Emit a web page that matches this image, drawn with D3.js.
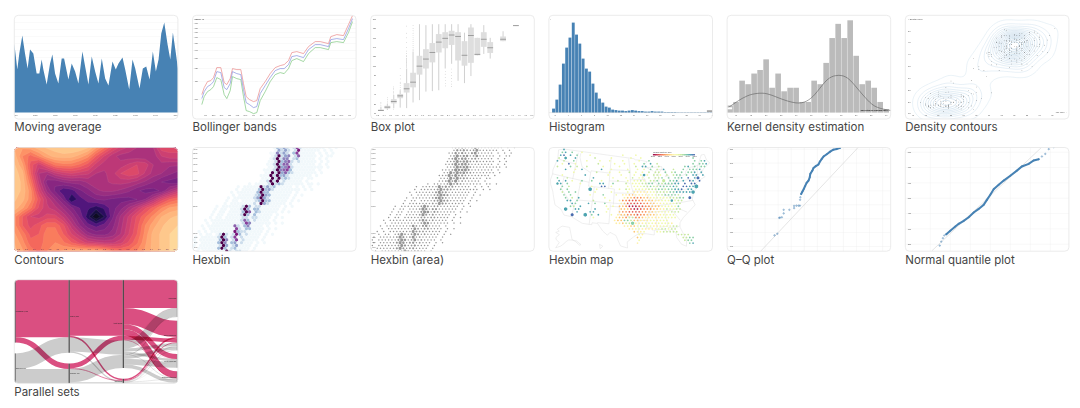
<!DOCTYPE html>
<html>
<head>
<meta charset="utf-8">
<title>Chart gallery</title>
<script src="https://cdn.jsdelivr.net/npm/d3@7"></script>
<style>
  html, body { margin: 0; background: #fff; }
  svg { display: block; }
  .title { font-family: Inter, "Noto Sans", sans-serif; font-size: 11.5px; fill: #444; }
  .tiny { font-family: "Liberation Sans", sans-serif; }
</style>
</head>
<body>
<div id="gallery"></div>
<script>
// Gallery of small chart cards.

const cardTitles = [
  "Moving average", "Bollinger bands", "Box plot", "Histogram", "Kernel density estimation", "Density contours",
  "Contours", "Hexbin", "Hexbin (area)", "Hexbin map", "Q–Q plot", "Normal quantile plot",
  "Parallel sets"
];

// moving average
const maDays = [0,1.3,3,5,8,10.7,13.3,15.7,19,22.3,25,27.3,29,32.3,35.7,38,40.7,44,47.3,49.7,54,57.3,60.7,64,68,70.7,74,77.3,80.7,84,87.3,90.7,94,98,101.3,104,108,110.7,114.7,118,120.7,125,128.3,131.7,135,138.3,141.3,144,146.7,149.7,153,155.7,158.3,161.3,163.3];
const maValues = [69,58,43,59,77,59,44,63,59,39,39,53,43,28,49,58,39,29,54,54,33,49,41,29,61,46,28,56,41,29,54,34,27,51,43,49,55,43,23,53,44,24,44,46,33,61,41,53,79,90,68,53,80,59,44];
const maTicks = [1,21,41,61,81,101,121,141,161];
const maTickLabels = ["1870","1880","1890","1900","1910","1920","1930","1940","1950"];

// bollinger bands
const bbDays = [9.3,11.7,15,18.3,21,24.3,28.3,31.7,34.3,37.7,40,44.3,48.3,51,53.7,57,61,64.3,67.7,72.7,77.7,82.7,87.7,91.7,96,99.3,104.3,111,116,122.7,127.7,136,138.3,144.3,151,156,160];
const bbMiddle = [18,25,30,32,35,45,44,29,27,33,45,43,42,27,14,12,9,10,23,31,39,46,48,48,52,60,61,59,67,72,72,70,77,78,77,88,98];
const bbUpper = [22,29,35,36,39,49,49,34,32,38,48,47,47,33,20,17,15,16,28,35,43,49,51,52,56,64,65,63,70,75,75,73,80,82,81,92,101];
const bbLower = [12,20,25,27,30,39,37,22,18,26,40,38,37,20,6,5,3,4,16,25,35,42,44,43,48,56,58,55,63,69,69,67,74,75,74,84,95];
const bbGrid = [97,93,88,84,79,73,66,58,48,35,17];
const bbGridLabels = ["200","190","180","170","160","150","140","130","120","110","100"];
const bbTicks = [13,21,29,37,45,53,61,69,77,85,93,101,109,117,125,133,141,149,157];
const bbTickLabels = ["Jul","Sep","Nov","Jan","Mar","May","Jul","Sep","Nov","Jan","Mar","May","Jul","Sep","Nov","Jan","Mar","May","Jul"];

// box plot, price in thousands by 0.2 carat bin
const boxCarats = [0.3,0.5,0.7,0.9,1.1,1.3,1.5,1.7,1.9,2.1,2.3,2.5,2.7,2.9,3.1,3.3,3.5,3.7,4.1,4.5];
const boxLow = [0.5,0.7,1.1,1.2,1.1,2.3,2.8,4.6,4.7,4.9,9.5,10.5,6.9,6.4,7.9,12.3,12.6,11.6,15.3,18.5];
const boxQ1 = [0.5,1.0,2.1,3.2,4.4,5.5,8.2,9.5,10.8,12.9,13.8,14.5,11.2,10.1,10.7,12.3,14.1,12.8,15.3,18.5];
const boxMedian = [0.6,1.3,2.5,3.7,5.2,6.6,10.0,11.5,12.9,15.1,15.9,16.6,16.3,12.3,16.5,12.5,15.7,13.9,15.7,18.6];
const boxQ3 = [0.8,1.6,3.0,4.1,6.4,8.6,12.2,13.6,14.9,16.8,17.2,17.5,17.2,15.3,18.2,16.0,17.2,15.1,16.3,18.7];
const boxHigh = [1.4,2.0,3.9,4.9,9.5,13.1,18.9,18.7,18.9,18.9,18.9,18.9,18.9,17.1,18.9,16.0,18.7,16.0,17.4,18.7];
const boxOutliers = [
  [1.6,2.0,2.3],[2.2,2.6,3.0,3.4],[0.9,4.1,4.4,4.7,5.0,5.3,5.6],[5.1,5.5,5.9,6.3,6.6,7.3,8.0,9.5],
  [9.7,9.9,10.1,10.3,10.5,10.7,10.9,11.1,11.3,11.5,11.7,12,12.3,12.7,13.2,14,15,16,17,18.5],
  [13.3,13.6,14,14.4,14.8,15.2,15.6,16,16.5,17,17.5,18,18.6],[],[],[],[],
  [5.8,6.3,7,7.6,8.3,8.9],[5.7,6.2,6.8,7.4,8,8.6,9.4],[],[],[],[],[],[],[],[]
];

// histogram, bars in 0.5 steps
const histCounts = [4,13,28,49,65,75,90,78,69,54,44,41,29,20,14,10,6,5,3,2.5,2,2,1.5,2,2.5,2,1.5,1.5,1,1,1.5,1,1,1,0.5,0.5,0.5,0.5,0.3,0.3,0.3,0.3,0.3,0.3,0.3,0.3,0.3,0.3,0.3];
const histTicks = [2,4,6,8,10,12,14,16,18,20,22,24,26];

// kernel density
const kdeBins = [2,3,9,8,11,12,15,7,11,6,7,7,3,3,9,8,14,21,25,21,26,16,8,9,7,3,1];
const kdeX = [37,40.3,43.7,47,50.3,53.7,57,60.9,64.2,67,70.3,73.1,75.3,77.6,80.3,83.7,87,91.6];
const kdeY = [1.2,3.1,4.7,5.4,5.3,4.3,3.3,2.7,3.6,5.9,9.2,10.4,10.4,9.4,6.9,3.6,1.5,0.6];
const kdeTicks = [40,45,50,55,60,65,70,75,80,85,90];

// old faithful
const faithfulEruptions = [3.6,1.8,3.333,2.283,4.533,2.883,4.7,3.6,1.95,4.35,1.833,3.917,4.2,1.75,4.7,2.167,1.75,4.8,1.6,4.25,1.8,1.75,3.45,3.067,4.533,3.6,1.967,4.083,3.85,4.433,4.3,4.467,3.367,4.033,3.833,2.017,1.867,4.833,1.833,4.783,4.35,1.883,4.567,1.75,4.533,3.317,3.833,2.1,4.633,2,4.8,4.716,1.833,4.833,1.733,4.883,3.717,1.667,4.567,4.317,2.233,4.5,1.75,4.8,1.817,4.4,4.167,4.7,2.067,4.7,4.033,1.967,4.5,4,1.983,5.067,2.017,4.567,3.883,3.6,4.133,4.333,4.1,2.633,4.067,4.933,3.95,4.517,2.167,4,2.2,4.333,1.867,4.817,1.833,4.3,4.667,3.75,1.867,4.9,2.483,4.367,2.1,4.5,4.05,1.867,4.7,1.783,4.85,3.683,4.733,2.3,4.9,4.417,1.7,4.633,2.317,4.6,1.817,4.417,2.617,4.067,4.25,1.967,4.6,3.767,1.917,4.5,2.267,4.65,1.867,4.167,2.8,4.333,1.833,4.383,1.883,4.933,2.033,3.733,4.233,2.233,4.533,4.817,4.333,1.983,4.633,2.017,5.1,1.8,5.033,4,2.4,4.6,3.567,4,4.5,4.083,1.8,3.967,2.2,4.15,2,3.833,3.5,4.583,2.367,5,1.933,4.617,1.917,2.083,4.583,3.333,4.167,4.333,4.5,2.417,4,4.167,1.883,4.583,4.25,3.767,2.033,4.433,4.083,1.833,4.417,2.183,4.8,1.833,4.8,4.1,3.966,4.233,3.5,4.366,2.25,4.667,2.1,4.35,4.133,1.867,4.6,1.783,4.367,3.85,1.933,4.5,2.383,4.7,1.867,3.833,3.417,4.233,2.4,4.8,2,4.15,1.867,4.267,1.75,4.483,4,4.117,4.083,4.267,3.917,4.55,4.083,2.417,4.183,2.217,4.45,1.883,1.85,4.283,3.95,2.333,4.15,2.35,4.933,2.9,4.583,3.833,2.083,4.367,2.133,4.35,2.2,4.45,3.567,4.5,4.15,3.817,3.917,4.45,2,4.283,4.767,4.533,1.85,4.25,1.983,2.25,4.75,4.117,2.15,4.417,1.817,4.467];
const faithfulWaiting = [79,54,74,62,85,55,88,85,51,85,54,84,78,47,83,52,62,84,52,79,51,47,78,69,74,83,55,76,78,79,73,77,66,80,74,52,48,80,59,90,80,58,84,58,73,83,64,53,82,59,75,90,54,80,54,83,71,64,77,81,59,84,48,82,60,92,78,78,65,73,82,56,79,71,62,76,60,78,76,83,75,82,70,65,73,88,76,80,48,86,60,90,50,78,63,72,84,75,51,82,62,88,49,83,81,47,84,52,86,81,75,59,89,79,59,81,50,85,59,87,53,69,77,56,88,81,45,82,55,90,45,83,56,89,46,82,51,86,53,79,81,60,82,77,76,59,80,49,96,53,77,77,65,81,71,70,81,93,53,89,45,86,58,78,66,76,63,88,52,93,49,57,77,68,81,81,73,50,85,74,55,77,83,83,51,78,84,46,83,55,81,57,76,84,77,81,87,77,51,78,60,82,91,53,78,46,77,84,49,83,71,80,49,75,64,76,53,94,55,76,50,82,54,75,78,79,78,78,70,79,70,54,86,50,90,54,54,77,79,64,75,47,86,63,85,82,57,82,67,74,54,83,73,73,88,80,71,83,56,79,78,84,58,83,43,60,75,81,46,90,46,74];
const faithfulXTicks = [40,45,50,55,60,65,70,75,80,85,90,95];
const faithfulYTicks = [1.5,2,2.5,3,3.5,4,4.5,5];

// contours: level (0-99) read at 21 x 13 positions
const contourLevels = [
  [82,78,80,85,88,90,92,92,92,88,78,68,58,50,46,42,40,42,55,55,55],
  [85,72,65,72,80,84,85,84,80,74,62,52,44,40,39,38,38,39,47,50,50],
  [88,78,60,50,60,68,70,70,66,60,50,44,42,44,48,52,50,42,40,38,38],
  [90,84,62,42,38,46,50,52,50,48,42,41,45,52,56,54,46,40,37,33,30],
  [90,86,68,46,30,28,32,34,34,38,40,41,43,44,43,40,36,32,27,25,24],
  [90,86,74,52,36,26,18,20,26,30,36,38,38,36,33,28,25,25,28,38,46],
  [88,84,74,60,46,36,26,12,20,24,27,28,26,25,25,27,32,42,54,62,66],
  [85,78,68,56,48,44,36,28,22,18,14,18,25,30,38,46,56,64,72,78,80],
  [74,62,52,50,54,54,46,36,26,14,2,12,26,38,48,58,66,74,82,86,88],
  [74,62,55,60,66,66,58,44,32,24,20,24,30,40,50,60,72,80,86,90,92],
  [78,70,60,62,70,70,62,52,44,34,30,30,34,42,52,62,74,84,88,92,93],
  [82,74,64,64,70,72,68,62,56,50,48,46,46,50,58,66,76,84,88,92,94],
  [84,78,70,66,72,76,78,80,82,82,82,78,72,68,68,72,78,84,88,92,94]
];
const contourThresholds = [2,7,12,17,22,27,32,37,42,47,52,57,62,67,72,77,82,87,92];
const contourTickLabels = ["-2.0","-1.8","-1.6","-1.4","-1.2","-1.0","-0.8","-0.6","-0.4","-0.2","0.0","0.2","0.4","0.6","0.8","1.0","1.2","1.4","1.6","1.8","2.0"];

// hexbin counts, one digit per bin: [first column, digits]
const hexRows = [
  [25,"1324212721111111.1.1"],[25,"14242128111111.1.1"],[24,"11524213711111.1.1.1"],[24,"12924512611111.1.11"],
  [24,"12925512311111.1.1"],[23,"112935621211111.1.1"],[23,"112936621111111.1.1"],[23,"11294572111111111.1"],
  [22,"1112956731111111.1"],[22,"1192946321111111.1"],[21,"1119293421111111.1"],[21,"1119292321111.11"],
  [21,"1129291211111.1"],[17,"1.111129232111111.11.1"],[14,"1.111119242311111.1.1.1"],[13,"1.111113934211111111.1.1"],
  [12,"1.11111139331111111.1"],[12,"1.1111123943111111.1.1"],[11,"1.11111124942111111.1"],[10,"1.11.11112393311111.1.1"],
  [10,"1.11111112194211111.1"],[7,"1.111111293122111111.1.1"],[7,"1.11.111294133111111.1"],[6,"1.11.111139613211111.1.1"],
  [6,"1.11.11112931311111.1"],[5,"1.11.11111221221111.1.1"],[4,"1.111111111263121111.1"],[4,"1.111111111275111111.1.1"],
  [3,"1.11111111621351111.1"],[3,"1.11111111721331111.1.1"],[2,"1.1.1111111832211111.1"],[2,"1.11.12921283121111.1.1"],
  [1,"1.111112931271211111.1"],[0,"1.111111395127121111.1"],[1,"1.1111139513412111.1.1"],[0,"1.1111112941241111.1"],
  [0,"1.1111113931231111.1"],[1,"1.11111119212211.1"]
];
const hexPriceTicks = [700,800,900,1000,2000,3000,4000,5000,6000,7000,8000,9000];

// hexbin map: colour digit per bin, 0 red to 9 blue
const mapRows = [
  "...8",
  "..78.7..5",
  "..89.8.7...5.........5...5",
  ".6.7..8.....6....5.....5..5...............7",
  ".8.6..7...5...5..5...5....5..7.............7.78",
  "..5.9.5......6....5..5..5..7.8.6..........7.778",
  ".6...7.6..6....5....5....6.88.7.6.......78.7.77",
  "...8..5.8.....8..5....5..5.5.7.6.8..6..7.7778.",
  "......5......6...5..5..6.5.5.6.66.7.67.7.778.8",
  "..5......8......5...5...5.5.5.665.6.677.7.88.8",
  ".7..6.......8.....5...5.6.55.6.667.7.778.9.89",
  ".8.8.5..7..7..5....6..5.5565.667.7.778.8.98.9",
  ".78.7...5.....88..7...6.5556677.7677788.9.99",
  "..7.6......5..99.5....5.55566766777787.9988",
  "..7.7......6.5......5.65.555566677677889.88",
  "..6.7.7.....5....5....5.444445566667788888",
  "...7.7.....5...7...5.443344445556677776",
  "...7.6.8.......5.....4332223345555566677",
  "....88.7....6....5..42211122333445555566",
  ".....87...8.7..7....4311111223344555566",
  ".....76.8.......5.5.3320001122333555557",
  "......88....8...5...3331001222334465566",
  ".......8...88...5...3221111223344555666",
  "...........7.8...5.433222122333445555",
  "............5......4332662234444455555",
  "..................43377633444554555",
  "...................443664444555455554",
  ".....................44335665544555566",
  ".......................445544445566566",
  "........................3445...5566666",
  "..........................54..........6666",
  ".........................35............6677",
  "..........................5.............677",
  ".........................4...............78"
];
const mapHubCols = [3,1,3,5,9,11,43,42,44,41,36,27,24,33];
const mapHubRows = [3,12,21,23,23,14,13,15,10,17,18,9,26,11];
const mapHubColours = [8,8,8,9,8,8,8,8,9,9,8,8,7,6];
const mapHubSizes = [1.4,1.3,1.9,1.7,2,2,2.1,1.9,1.6,1.6,1.4,1.4,1.8,1.7];
const mapLegendTicks = ["2000","2200","2400","2600","2800","3000","3200"];

const usOutline = [[-124.7,48.4],[-122.8,49],[-95.15,49],[-94.6,48.7],[-93,48.6],[-90,48.1],[-92.1,46.8],[-90.5,46.6],[-87.6,46.5],[-84.8,46.5],[-84.6,45.8],[-87,45.7],[-88,44.6],[-87.5,42.5],[-86.9,41.7],[-86.3,42.8],[-86.3,44.7],[-85,45.7],[-83.5,45.3],[-83.3,44.3],[-83.9,43.8],[-82.6,43.9],[-82.5,42.6],[-83.4,41.7],[-81.7,41.5],[-79,42.7],[-79,43.3],[-76.5,43.5],[-76.3,44.2],[-75,45],[-71.5,45],[-70.3,46.2],[-69.2,47.4],[-68,47.3],[-67.8,45.7],[-67,44.8],[-70,43.7],[-70.8,42.8],[-70,41.7],[-71.5,41.4],[-74,40.6],[-74,39.5],[-75.4,38],[-76,36.9],[-75.5,35.3],[-77.9,33.9],[-79.9,32.7],[-81.2,31.5],[-81.4,30.4],[-80.1,26.8],[-80.4,25.2],[-81.7,25.9],[-82.8,27.8],[-82.8,29],[-84,30.1],[-85.3,29.7],[-86.5,30.4],[-89.2,30.3],[-89.3,29.1],[-91.5,29.5],[-93.8,29.7],[-95.3,28.9],[-97.3,27.5],[-97.2,25.9],[-99.2,26.4],[-100.7,29.1],[-102.5,29.8],[-103.2,29],[-104.7,30],[-106.5,31.8],[-108.2,31.8],[-108.2,31.3],[-111.1,31.3],[-114.8,32.5],[-117.1,32.5],[-118.4,33.8],[-120.6,34.5],[-122,36.9],[-122.5,37.8],[-123.8,39.3],[-124.3,40.4],[-124.2,42],[-124.5,43],[-124,46.2],[-124.7,48.4]];
const stateLines = [
  [[-124,46.2],[-123,46.1],[-119,46],[-116.9,46]],[[-117,49],[-116.9,42]],[[-124.2,42],[-111,42]],
  [[-120,42],[-120,39],[-114.6,35]],[[-114,42],[-114,37],[-114.7,36],[-114.6,35],[-114.8,32.5]],
  [[-109,41],[-109,31.3]],[[-114,37],[-94.6,37]],[[-111,45],[-111,41],[-102,41]],[[-111,45],[-104,45]],
  [[-116,49],[-116,47.9],[-114.5,45.6],[-111,44.5]],[[-104,45.9],[-96.6,45.9]],[[-104,49],[-104,41]],
  [[-103,37],[-103,32],[-106.6,32]],[[-104,43],[-98.5,43],[-96.5,42.5]],[[-102,40],[-95.3,40]],[[-102,41],[-102,37]],
  [[-103,36.5],[-100,36.5],[-100,34.5],[-94.4,33.6]],[[-94,33.6],[-94,29.7]],[[-94,33],[-91.2,33]],
  [[-94.6,36.5],[-90,36.5],[-89.7,36]],[[-96.5,43.5],[-91.2,43.5]],[[-95.8,40.6],[-91.5,40.6]],
  [[-97.2,49],[-96.6,45.9],[-96.5,43.5],[-96,41.5],[-95.3,40],[-94.6,39],[-94.6,36.5],[-94.4,33.6]],
  [[-92.8,45],[-91.2,43.5],[-90.5,41.5],[-91.5,40.6],[-90.2,38.7],[-89.2,37],[-89.7,36],[-90.5,34.8],[-91.2,33],[-91.6,31],[-89.7,31],[-89.6,30.2]],
  [[-90.5,46.6],[-88,45.5]],[[-90.6,42.5],[-87.8,42.5]],[[-87.5,41.7],[-87.6,39],[-88,37.9]],[[-84.8,41.7],[-84.8,39.1]],[[-87,41.75],[-83.4,41.7]],
  [[-89.2,37],[-88,37.9],[-86,38],[-84.8,39.1],[-82.6,38.4],[-80.6,40.6],[-80.5,42]],[[-89.5,36.5],[-81.7,36.6],[-75.9,36.55]],
  [[-90.3,35],[-84.3,35],[-81,35.2],[-78.5,33.9]],[[-88.2,35],[-88.4,30.3]],[[-85.6,35],[-85,32],[-85,31],[-87.6,31]],[[-85,30.7],[-82.2,30.5],[-81.4,30.7]],
  [[-83.1,35],[-81,32.1]],[[-80.5,42],[-75,42],[-75,40]],[[-80.5,39.7],[-75.7,39.7]],[[-82,37.5],[-80,38],[-78,39.3],[-77.7,39.3]],
  [[-73.3,45],[-73.3,42.7],[-73.5,41.2]],[[-73.3,42.7],[-70.8,42.8]],[[-71.5,45],[-72.5,42.7]],[[-71,45.3],[-70.7,43.1]]
];
const alaskaOutline = [[-141,69.6],[-141,60.3],[-137,58.5],[-133,55],[-131,55],[-135,58.5],[-140,59.8],[-146,60.5],[-151,59.2],[-153,58],[-158,56],[-164,54.5],[-160,58.7],[-165,60.5],[-166,62],[-161,64.5],[-168,65.7],[-162,67],[-166,68.3],[-157,71],[-141,69.6]];
const hawaiiOutline = [[-155.9,20.2],[-155,19.7],[-155.7,19],[-155.9,20.2]];

// q-q
const qqX = [436,447,454,457,464,471,471,493,511,511,520,528,533,534,535,538,543,548,553,559,566,571,573,581,585,594,604,610,617,624,636,649,661,674,687];
const qqY = [440,446,503,504,505,519,532,532,538,546,547,547,547,568,577,589,598,607,617,629,637,649,661,673,682,689,695,706,715,724,732,741,748,751,755];
const qqTicks = [400,450,500,550,600,650,700,750];
const qqRefX = [300,800];
const qqRefY = [300,800];
const qqDenseFrom = 15;

// normal quantile
const nqZ = [-2.53,-2.45,-2.37,-2.3,-2.2,-2,-1.75,-1.58,-1.33,-1.08,-0.83,-0.58,-0.33,-0.17,0,0.17,0.42,0.67,1,1.33,1.58,1.92,2.17,2.42,2.58,2.75,2.92,3.17];
const nqValues = [191,217,239,257,265,287,315,333,352,376,407,430,457,489,522,559,587,615,646,680,707,724,746,754,772,789,820,833];
const nqTicks = [200,300,400,500,600,700,800];
const nqZTicks = [-3,-2,-1,0,1,2,3];
const nqRefZ = [-2.92,2.55];
const nqRefY = [157,830];

// titanic
const psSurvived = ["Perished","Perished","Perished","Perished","Perished","Perished","Perished","Perished","Perished","Perished","Survived","Survived","Survived","Survived","Survived","Survived","Survived","Survived","Survived","Survived","Survived","Survived","Survived","Survived"];
const psSex = ["Male","Male","Male","Male","Male","Female","Female","Female","Female","Female","Male","Male","Male","Male","Male","Male","Male","Female","Female","Female","Female","Female","Female","Female"];
const psAge = ["Adult","Adult","Adult","Adult","Child","Adult","Adult","Adult","Adult","Child","Adult","Adult","Adult","Adult","Child","Child","Child","Adult","Adult","Adult","Adult","Child","Child","Child"];
const psClass = ["Crew","Third Class","First Class","Second Class","Third Class","Crew","Third Class","First Class","Second Class","Third Class","Crew","Third Class","First Class","Second Class","Third Class","First Class","Second Class","Crew","Third Class","First Class","Second Class","Third Class","First Class","Second Class"];
const psCounts = [670,387,118,154,35,3,89,4,13,17,192,75,57,14,13,5,11,20,76,140,80,14,1,13];

const blue = "#4682b4";
const cardW = 163.6, cardH = 103.7;

const svg = d3.select("#gallery").append("svg")
  .attr("width", 1080)
  .attr("height", 408)
  .attr("viewBox", "0 0 1080 408");

svg.append("defs").append("filter")
  .attr("id", "soft")
  .attr("x", "-2%").attr("y", "-2%").attr("width", "104%").attr("height", "104%")
  .append("feGaussianBlur").attr("stdDeviation", 0.4);
svg.select("defs").append("clipPath").attr("id", "cardClip")
  .append("rect").attr("width", cardW).attr("height", cardH).attr("rx", 4);

// tiny axis labels, no domain line
function tinyAxis(g, axis, x, y) {
  const a = g.append("g")
    .attr("transform", `translate(${x},${y})`)
    .call(axis.tickSize(0).tickPadding(0.6).offset(0));
  a.select(".domain").remove();
  a.attr("font-size", 2).attr("font-family", "'Liberation Sans', sans-serif");
  a.selectAll("text").attr("fill", "#555");
  return a;
}

function tinyText(g, x, y, str, anchor, colour) {
  return g.append("text").attr("class", "tiny")
    .attr("x", x).attr("y", y)
    .attr("font-size", 2)
    .attr("text-anchor", anchor || "start")
    .attr("fill", colour || "#444")
    .text(str);
}

function hGrid(g, scale, values, colour) {
  g.append("g").selectAll("line").data(values).join("line")
    .attr("x1", 0).attr("x2", cardW)
    .attr("y1", d => scale(d)).attr("y2", d => scale(d))
    .attr("stroke", colour || "#eee").attr("stroke-width", 0.4);
}

function vGrid(g, scale, values, colour) {
  g.append("g").selectAll("line").data(values).join("line")
    .attr("y1", 0).attr("y2", cardH)
    .attr("x1", d => scale(d)).attr("x2", d => scale(d))
    .attr("stroke", colour || "#eee").attr("stroke-width", 0.4);
}

function hexPath(r) {
  const pts = d3.range(6).map(i => [i * Math.PI / 3, r]);
  return d3.lineRadial()(pts) + "Z";
}

function drawMovingAverage(g) {
  const x = d3.scaleLinear([0, 163.3], [0, cardW]);
  const y = d3.scaleLinear([0, 90], [97.3, 7.3]);
  hGrid(g, y, [90, 83, 76, 69, 62, 55], "#f0f0f0");
  const area = d3.area().x((d, i) => x(maDays[i])).y0(y(0)).y1(d => y(d));
  g.append("path").datum(maValues).attr("d", area).attr("fill", blue);
  tinyAxis(g, d3.axisBottom(x).tickValues(maTicks).tickFormat((d, i) => maTickLabels[i]), 0, 98.5);
}

function drawBollinger(g) {
  const x = d3.scaleLinear([0, 163.6], [0, cardW]);
  const y = d3.scaleLinear([0, 100], [101.3, 1.3]);
  hGrid(g, y, bbGrid);
  tinyAxis(g, d3.axisLeft(y).tickValues(bbGrid).tickFormat((d, i) => bbGridLabels[i]), 6, 0);
  tinyAxis(g, d3.axisBottom(x).tickValues(bbTicks).tickFormat((d, i) => bbTickLabels[i]), 0, 98.5);
  tinyText(g, 2, 5, "↑ Close ($)");
  const line = d3.line().x((d, i) => x(bbDays[i])).y(d => y(d));
  [[bbLower, "#74c274"], [bbUpper, "#e87f7f"], [bbMiddle, "#7c88dc"]].forEach(([vals, c]) => {
    g.append("path").datum(vals).attr("d", line).attr("fill", "none").attr("stroke", c).attr("stroke-width", 0.65);
  });
}

function drawBoxPlot(g) {
  const x = d3.scaleLinear([0.2, 5], [7, 161.3]);
  const y = d3.scaleLinear([0, 20], [98, 3.7]);
  tinyAxis(g, d3.axisLeft(y).ticks(10).tickFormat(d => d + "k"), 6, 0);
  tinyAxis(g, d3.axisBottom(x).tickValues(d3.range(0.2, 5.01, 0.2)).tickFormat(d3.format(".1f")), 0, 98.5);
  const bins = g.append("g").selectAll("g").data(boxCarats).join("g");
  bins.append("line")
    .attr("x1", d => x(d)).attr("x2", d => x(d))
    .attr("y1", (d, i) => y(boxLow[i])).attr("y2", (d, i) => y(boxHigh[i]))
    .attr("stroke", "#c4c4c4").attr("stroke-width", 0.8);
  bins.append("rect")
    .attr("x", d => x(d) - 2.9).attr("width", 5.8)
    .attr("y", (d, i) => y(boxQ3[i]))
    .attr("height", (d, i) => Math.max(0.6, y(boxQ1[i]) - y(boxQ3[i])))
    .attr("fill", "#dedede");
  bins.append("line")
    .attr("x1", d => x(d) - 2.9).attr("x2", d => x(d) + 2.9)
    .attr("y1", (d, i) => y(boxMedian[i])).attr("y2", (d, i) => y(boxMedian[i]))
    .attr("stroke", "#707070").attr("stroke-width", 0.6);
  boxOutliers.forEach((vals, i) => {
    g.append("g").selectAll("circle").data(vals).join("circle")
      .attr("cx", x(boxCarats[i])).attr("cy", d => y(d)).attr("r", 0.35)
      .attr("fill", "#333").attr("fill-opacity", 0.45);
  });
}

function drawHistogram(g) {
  const x = d3.scaleLinear([1.5, 26], [3, 163.9]);
  const y = d3.scaleLinear([0, 90], [97.3, 7.3]);
  g.append("g").selectAll("rect").data(histCounts).join("rect")
    .attr("x", (d, i) => x(1.5 + i * 0.5) + 0.2)
    .attr("width", x(2) - x(1.5) - 0.4)
    .attr("y", d => y(d))
    .attr("height", d => y(0) - y(d))
    .attr("fill", blue);
  g.append("line").attr("x1", 0).attr("x2", cardW).attr("y1", y(0)).attr("y2", y(0)).attr("stroke", "#bbb").attr("stroke-width", 0.3);
  tinyAxis(g, d3.axisBottom(x).tickValues(histTicks), 0, 98.3);
  tinyText(g, 1, 5, "↑", "start", "#222");
  g.append("rect").attr("x", 158).attr("y", 95).attr("width", 5.6).attr("height", 1.6).attr("fill", "#999");
}

function drawKde(g) {
  const x = d3.scaleLinear([37, 91.5], [0, cardW]);
  const y = d3.scaleLinear([0, 26], [97.3, 5]);
  g.append("g").selectAll("rect").data(kdeBins).join("rect")
    .attr("x", (d, i) => x(37 + i * 2) + 0.2)
    .attr("width", x(39) - x(37) - 0.4)
    .attr("y", d => y(d))
    .attr("height", d => y(0) - y(d))
    .attr("fill", "#bbb");
  const line = d3.line().x((d, i) => x(kdeX[i])).y(d => y(d)).curve(d3.curveNatural);
  g.append("path").datum(kdeY).attr("d", line).attr("fill", "none").attr("stroke", "#555").attr("stroke-width", 0.55);
  tinyAxis(g, d3.axisBottom(x).tickValues(kdeTicks), 0, 98.3);
  g.append("rect").attr("x", 0).attr("y", 92).attr("width", 5).attr("height", 2).attr("fill", "#fff");
  tinyText(g, 163, 96, "Time between eruptions (min.) →", "end", "#111").attr("font-size", 1.9).attr("font-weight", "bold");
}

function drawDensityContours(g) {
  const x = d3.scaleLinear([40, 100], [7.7, 159.7]);
  const y = d3.scaleLinear([1, 5.5], [110.3, 3.8]);
  const n = Math.min(faithfulWaiting.length, faithfulEruptions.length);
  const pts = d3.range(n).map(i => [faithfulWaiting[i], faithfulEruptions[i]]);
  const contours = d3.contourDensity()
    .x(d => x(d[0])).y(d => y(d[1]))
    .size([cardW, cardH])
    .cellSize(1)
    .bandwidth(7)
    .thresholds(40)(pts)
    .filter((d, i) => i % 2 === 0);
  g.append("g").attr("fill", "none").attr("stroke", "#5f9cc6").attr("stroke-width", 0.32).attr("stroke-linejoin", "round")
    .selectAll("path").data(contours).join("path")
    .attr("stroke-opacity", (d, i) => Math.min(0.95, 0.4 + i * 0.04))
    .attr("d", d3.geoPath());
  g.append("g").selectAll("circle").data(pts).join("circle")
    .attr("cx", d => x(d[0])).attr("cy", d => y(d[1])).attr("r", 0.3).attr("fill", "#333");
  tinyAxis(g, d3.axisBottom(x).tickValues(faithfulXTicks), 0, 98.4);
  tinyAxis(g, d3.axisLeft(y).tickValues(faithfulYTicks), 6, 0);
  tinyText(g, 3, 4.5, "↑ Eruption (min.)");
  tinyText(g, 162, 98, "Idle (min.) →", "end");
}

function drawContours(g) {
  const rows = contourLevels.length, cols = contourLevels[0].length;
  const x = d3.scaleLinear([0.5, cols - 0.5], [0, cardW]);
  const y = d3.scaleLinear([0.5, rows - 0.5], [0, cardH]);
  const path = d3.geoPath(d3.geoTransform({
    point(px, py) { this.stream.point(x(px), y(py)); }
  }));
  const tone = d3.scaleLinear([0, 15, 25, 40, 60, 80, 100], [0.02, 0.17, 0.35, 0.48, 0.64, 0.82, 0.96]);
  const grid = contourLevels.flat();
  const bands = d3.contours().size([cols, rows]).thresholds(contourThresholds)(grid);
  g.append("rect").attr("width", cardW).attr("height", cardH).attr("fill", "#0a0722");
  g.append("g").selectAll("path").data(bands).join("path")
    .attr("d", path)
    .attr("fill", d => d3.interpolateMagma(tone(d.value + 2.5)))
    .attr("stroke", "#fff").attr("stroke-opacity", 0.22).attr("stroke-width", 0.3);
  const tx = d3.scaleLinear([0, contourTickLabels.length - 1], [4, cardW - 3]);
  tinyAxis(g, d3.axisBottom(tx).tickValues(d3.range(contourTickLabels.length)).tickFormat((d, i) => contourTickLabels[i]), 0, 100.5)
    .selectAll("text").attr("fill", "#5a2a5a");
}

const hexX = d3.scaleLinear([0, 50], [0, 163.3]);
const hexY = d3.scaleLinear([0, 37], [0, 103.6]);
const hexBins = hexRows.flatMap(([start, digits], r) =>
  Array.from(digits).flatMap((c, i) => c === "." ? [] : [{ row: r, col: start + i, n: +c }]));
const hexTone = d3.scaleLinear([1, 2, 3, 4, 5, 6, 7, 8, 9], [0.03, 0.2, 0.35, 0.45, 0.55, 0.65, 0.75, 0.88, 1]);

function hexXY(d) {
  return `translate(${hexX(d.col + (d.row % 2 ? 0.5 : 0))},${hexY(d.row)})`;
}

function priceAxis(g) {
  const y = d3.scaleLog([700, 9000], [99.7, 1.5]);
  tinyAxis(g, d3.axisLeft(y).tickValues(hexPriceTicks).tickFormat(d3.format(",")), 5.5, 0);
}

function drawHexbin(g) {
  g.append("g").selectAll("path").data(hexBins).join("path")
    .attr("transform", hexXY)
    .attr("d", hexPath(1.8))
    .attr("fill", d => d3.interpolateBuPu(hexTone(d.n)));
  priceAxis(g);
}

function drawHexbinArea(g) {
  g.append("g").selectAll("path").data(hexBins).join("path")
    .attr("transform", hexXY)
    .attr("d", d => hexPath(0.28 + Math.sqrt(d.n / 9) * 1.45))
    .attr("fill", "#949494");
  priceAxis(g);
}

function drawHexbinMap(g) {
  const projection = d3.geoAlbersUsa().scale(221).translate([81, 51]);
  const path = d3.geoPath(projection);
  const land = g.append("g").attr("fill", "none").attr("stroke", "#dedede").attr("stroke-width", 0.5);
  land.append("path").datum({ type: "LineString", coordinates: usOutline }).attr("d", path);
  land.append("path").datum({ type: "MultiLineString", coordinates: stateLines }).attr("d", path);
  land.append("path").datum({ type: "LineString", coordinates: alaskaOutline }).attr("d", path);
  land.append("path").datum({ type: "LineString", coordinates: hawaiiOutline }).attr("d", path);

  const col = d3.scaleLinear([0, 46], [5.3, 155.6]);
  const row = d3.scaleLinear([0, 33], [2, 95.6]);
  const colour = d => d3.interpolateSpectral((d + 0.5) / 10);
  const bins = mapRows.flatMap((s, r) => Array.from(s).flatMap((c, i) => c === "." ? [] : [{ r, i, v: +c }]));
  g.append("g").selectAll("path").data(bins).join("path")
    .attr("transform", d => `translate(${col(d.i + (d.r % 2 ? 0.5 : 0))},${row(d.r)})`)
    .attr("d", hexPath(0.95))
    .attr("fill", d => colour(d.v));
  g.append("g").selectAll("path").data(mapHubCols).join("path")
    .attr("transform", (d, i) => `translate(${col(d + (mapHubRows[i] % 2 ? 0.5 : 0))},${row(mapHubRows[i])})`)
    .attr("d", (d, i) => hexPath(mapHubSizes[i]))
    .attr("fill", (d, i) => colour(mapHubColours[i]));

  // legend ramp
  const lx = d3.scaleLinear([0, 1], [104, 145.7]);
  g.append("g").selectAll("rect").data(d3.range(0, 1, 0.05)).join("rect")
    .attr("x", d => lx(d)).attr("y", 6.6).attr("width", lx(0.06) - lx(0)).attr("height", 1.3)
    .attr("fill", d => d3.interpolateSpectral(d));
  tinyText(g, 104, 5.6, "Median cost per acre");
  tinyAxis(g, d3.axisBottom(lx).tickValues(d3.range(0, 1.01, 1 / 6)).tickFormat((d, i) => mapLegendTicks[i]), 0, 7.9);
}

function drawQQ(g) {
  const x = d3.scaleLinear([400, 800], [38, 142.5]);
  const y = d3.scaleLinear([400, 750], [99, 1.7]);
  vGrid(g, x, [350, 400, 450, 500, 550, 600, 650, 700, 750, 800, 850]);
  hGrid(g, y, qqTicks);
  tinyAxis(g, d3.axisLeft(y).tickValues(qqTicks), 6.5, 0);
  g.append("line")
    .attr("x1", x(qqRefX[0])).attr("y1", y(qqRefY[0]))
    .attr("x2", x(qqRefX[1])).attr("y2", y(qqRefY[1]))
    .attr("stroke", "#d4d4d4").attr("stroke-width", 0.6);
  const dense = qqX.map((d, i) => [d, qqY[i]]).slice(qqDenseFrom);
  g.append("path").datum(dense)
    .attr("d", d3.line().x(d => x(d[0])).y(d => y(d[1])))
    .attr("fill", "none").attr("stroke", blue).attr("stroke-width", 2).attr("stroke-linecap", "round");
  g.append("g").selectAll("circle").data(qqX).join("circle")
    .attr("cx", d => x(d)).attr("cy", (d, i) => y(qqY[i])).attr("r", 0.8)
    .attr("fill", blue).attr("fill-opacity", 0.35).attr("stroke", blue).attr("stroke-width", 0.45).attr("stroke-opacity", 0.75);
}

function drawNormalQuantile(g) {
  const x = d3.scaleLinear([-3, 3], [25, 145]);
  const y = d3.scaleLinear([200, 800], [96.7, 4.7]);
  vGrid(g, x, nqZTicks);
  hGrid(g, y, nqTicks);
  tinyAxis(g, d3.axisLeft(y).tickValues(nqTicks), 6.5, 0);
  g.append("line")
    .attr("x1", x(nqRefZ[0])).attr("y1", y(nqRefY[0]))
    .attr("x2", x(nqRefZ[1])).attr("y2", y(nqRefY[1]))
    .attr("stroke", "#d4d4d4").attr("stroke-width", 0.6);
  const dense = nqZ.map((d, i) => [d, nqValues[i]]).slice(4, 24);
  g.append("path").datum(dense)
    .attr("d", d3.line().x(d => x(d[0])).y(d => y(d[1])))
    .attr("fill", "none").attr("stroke", blue).attr("stroke-width", 2).attr("stroke-linecap", "round");
  g.append("g").selectAll("circle").data(nqZ).join("circle")
    .attr("cx", d => x(d)).attr("cy", (d, i) => y(nqValues[i])).attr("r", 0.8)
    .attr("fill", blue).attr("fill-opacity", 0.35).attr("stroke", blue).attr("stroke-width", 0.45).attr("stroke-opacity", 0.75);
}

// small sankey: nodes stacked top to bottom in a fixed order, links in row order
function drawParallelSets(g) {
  const dims = [psSurvived, psSex, psAge, psClass];
  const pad = 3.6;
  const ky = (cardH - 3 * pad) / d3.sum(psCounts);
  const colX = d3.scaleLinear([0, 3], [0.2, cardW - 1]);
  const nodeW = 1;
  const nodes = dims.map((vals, c) => {
    const names = Array.from(new Set(vals));
    const totals = names.map(n => d3.sum(psCounts.filter((v, i) => vals[i] === n)));
    const gap = names.length > 1 ? (cardH - d3.sum(totals) * ky) / (names.length - 1) : 0;
    let y = 0;
    return new Map(names.map((n, j) => {
      const node = { name: n, c, value: totals[j], y0: y, y1: y + totals[j] * ky, outY: y, inY: y };
      y = node.y1 + gap;
      return [n, node];
    }));
  });

  const links = [];
  for (let c = 1; c < dims.length; c++) {
    const seen = new Map();
    psCounts.forEach((v, i) => {
      const key = dims.slice(0, c + 1).map(a => a[i]).join("|");
      if (seen.has(key)) { seen.get(key).value += v; return; }
      const link = { source: nodes[c - 1].get(dims[c - 1][i]), target: nodes[c].get(dims[c][i]), value: v, first: psSurvived[i] };
      seen.set(key, link);
      links.push(link);
    });
  }
  links.forEach(l => {
    l.width = l.value * ky;
    l.sy = l.source.outY + l.width / 2; l.source.outY += l.width;
    l.ty = l.target.inY + l.width / 2; l.target.inY += l.width;
  });

  const linkPath = d3.linkHorizontal()
    .source(d => [colX(d.source.c) + nodeW, d.sy])
    .target(d => [colX(d.target.c), d.ty]);
  g.append("g").attr("fill", "none").style("isolation", "isolate")
    .selectAll("path").data(links).join("path")
    .attr("d", linkPath)
    .attr("stroke", d => d.first === "Perished" ? "#da4f81" : "#ccc")
    .attr("stroke-width", d => d.width)
    .style("mix-blend-mode", "multiply");

  const allNodes = nodes.flatMap(m => Array.from(m.values()));
  g.append("g").selectAll("rect").data(allNodes).join("rect")
    .attr("x", d => colX(d.c)).attr("y", d => d.y0)
    .attr("width", d => d.c < 3 ? nodeW : 0.4).attr("height", d => d.y1 - d.y0)
    .attr("fill", "#222");
  g.append("g").selectAll("text").data(allNodes).join("text")
    .attr("class", "tiny")
    .attr("x", d => d.c < 2 ? colX(d.c) + 1.3 : colX(d.c) - 0.6)
    .attr("y", d => (d.y0 + d.y1) / 2)
    .attr("dy", "0.35em")
    .attr("font-size", 1.8)
    .attr("fill", "#222")
    .attr("text-anchor", d => d.c < 2 ? "start" : "end")
    .text(d => `${d.name} ${d3.format(",")(d.value)}`);
}

const drawers = [
  drawMovingAverage, drawBollinger, drawBoxPlot, drawHistogram, drawKde, drawDensityContours,
  drawContours, drawHexbin, drawHexbinArea, drawHexbinMap, drawQQ, drawNormalQuantile,
  drawParallelSets
];

cardTitles.forEach((title, i) => {
  const cx = 14.3 + 178.2 * (i % 6);
  const cy = 15.3 + 132.2 * Math.floor(i / 6);
  const card = svg.append("g").attr("transform", `translate(${cx},${cy})`);
  const soft = card.append("g").attr("filter", "url(#soft)");
  soft.append("rect").attr("width", cardW).attr("height", cardH).attr("rx", 4).attr("fill", "#fff");
  drawers[i](soft.append("g").attr("clip-path", "url(#cardClip)"));
  soft.append("rect").attr("width", cardW).attr("height", cardH).attr("rx", 4)
    .attr("fill", "none").attr("stroke", "#e6e6e6").attr("stroke-width", 0.8);
  card.append("text").attr("class", "title").attr("x", 0).attr("y", cardH + 12.4).text(title);
});
</script>
</body>
</html>
